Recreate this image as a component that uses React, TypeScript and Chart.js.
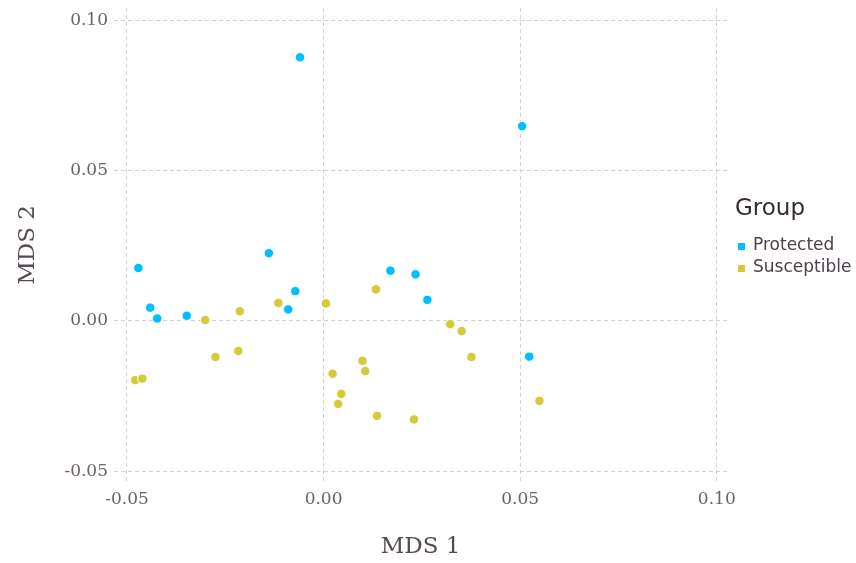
import React, { useEffect, useRef } from "react";
import { Chart, registerables } from "chart.js";

Chart.register(...registerables);

const groupNames = ["Protected", "Susceptible"];
const groupColors = ["#00BFFF", "#D4CA3A"];

const protectedX = [-0.0060, 0.0505, -0.0471, -0.0139, -0.0441, -0.0423, -0.0348, -0.0090, -0.0072, 0.0170, 0.0234, 0.0264, 0.0523];
const protectedY = [0.0877, 0.0648, 0.0176, 0.0225, 0.0044, 0.0008, 0.0017, 0.0038, 0.0099, 0.0167, 0.0155, 0.0070, -0.0119];

const susceptibleX = [-0.0301, -0.0213, -0.0115, 0.0006, -0.0275, -0.0217, -0.0479, -0.0461, 0.0133, 0.0322, 0.0351, 0.0376, 0.0099, 0.0106, 0.0023, 0.0045, 0.0037, 0.0136, 0.0230, 0.0549];
const susceptibleY = [0.0003, 0.0032, 0.0060, 0.0058, -0.0120, -0.0100, -0.0197, -0.0192, 0.0105, -0.0011, -0.0034, -0.0120, -0.0133, -0.0167, -0.0176, -0.0243, -0.0276, -0.0316, -0.0328, -0.0266];

const xTicks = [-0.05, 0.0, 0.05, 0.1];
const yTicks = [-0.05, 0.0, 0.05, 0.1];
const xLimits = [-0.0533, 0.1026];
const yLimits = [-0.0536, 0.1041];

const legendTitle = "Group";
const xTitle = "MDS 1";
const yTitle = "MDS 2";

const toPoints = (xs: number[], ys: number[]) => xs.map((x, i) => ({ x, y: ys[i] }));

export default function App() {
  const ref = useRef<HTMLCanvasElement | null>(null);

  useEffect(() => {
    if (!ref.current) return;
    const legendPlugin = {
      id: "customLegend",
      afterDraw(chart: any) {
        const ctx = chart.ctx;
        ctx.save();
        ctx.textBaseline = "middle";
        ctx.textAlign = "left";
        ctx.fillStyle = "#362A35";
        ctx.font = "23px 'DejaVu Sans'";
        ctx.fillText(legendTitle, 735, 209);
        const ys = [246, 268];
        groupNames.forEach((name, i) => {
          ctx.fillStyle = groupColors[i];
          ctx.fillRect(738, ys[i] - 3, 7, 7);
          ctx.fillStyle = "#4C404B";
          ctx.font = "17px 'DejaVu Sans'";
          ctx.fillText(name, 753, ys[i]);
        });
        ctx.restore();
      },
    };

    const chart = new Chart(ref.current, {
      type: "scatter",
      data: {
        datasets: [
          {
            label: groupNames[0],
            data: toPoints(protectedX, protectedY),
            backgroundColor: groupColors[0],
            borderColor: "#ffffff",
            borderWidth: 0.9,
            pointRadius: 4.7,
          },
          {
            label: groupNames[1],
            data: toPoints(susceptibleX, susceptibleY),
            backgroundColor: groupColors[1],
            borderColor: "#ffffff",
            borderWidth: 0.9,
            pointRadius: 4.7,
          },
        ],
      },
      options: {
        responsive: false,
        animation: false,
        devicePixelRatio: 1,
        layout: { padding: { top: 8, right: 129, bottom: 0, left: 0 } },
        plugins: {
          legend: { display: false },
          tooltip: { enabled: false },
        },
        scales: {
          x: {
            type: "linear",
            min: xLimits[0],
            max: xLimits[1],
            afterBuildTicks: (scale: any) => {
              scale.ticks = xTicks.map((v) => ({ value: v }));
            },
            afterFit: (scale: any) => {
              scale.height = 81;
              scale.paddingLeft = 0;
              scale.paddingRight = 0;
            },
            border: { display: false, dash: [4, 3] },
            grid: { color: "#D0D0E0", drawTicks: false, lineWidth: 1 },
            ticks: {
              padding: 7,
              color: "#6C606B",
              font: { family: "'DejaVu Serif'", size: 17 },
              maxRotation: 0,
              autoSkip: false,
              callback: (v: any) => Number(v).toFixed(2),
            },
            title: {
              display: true,
              text: xTitle,
              color: "#564A55",
              font: { family: "'DejaVu Serif'", size: 23 },
              padding: { top: 0, bottom: 2 },
            },
          },
          y: {
            type: "linear",
            min: yLimits[0],
            max: yLimits[1],
            afterBuildTicks: (scale: any) => {
              scale.ticks = yTicks.map((v) => ({ value: v }));
            },
            afterFit: (scale: any) => {
              scale.width = 114;
              scale.paddingTop = 0;
              scale.paddingBottom = 0;
            },
            border: { display: false, dash: [4, 3] },
            grid: { color: "#D0D0E0", drawTicks: false, lineWidth: 1 },
            ticks: {
              padding: 6,
              color: "#6C606B",
              font: { family: "'DejaVu Serif'", size: 17 },
              autoSkip: false,
              callback: (v: any) => Number(v).toFixed(2),
            },
            title: {
              display: true,
              text: yTitle,
              color: "#564A55",
              font: { family: "'DejaVu Serif'", size: 23 },
              padding: { top: 14, bottom: 0 },
            },
          },
        },
      } as any,
      plugins: [legendPlugin],
    });

    return () => chart.destroy();
  }, []);

  return (
    <div style={{ position: "fixed", left: 0, top: 0, width: 856, height: 563, background: "#ffffff" }}>
      <canvas ref={ref} width={856} height={563} style={{ width: 856, height: 563 }} />
    </div>
  );
}
